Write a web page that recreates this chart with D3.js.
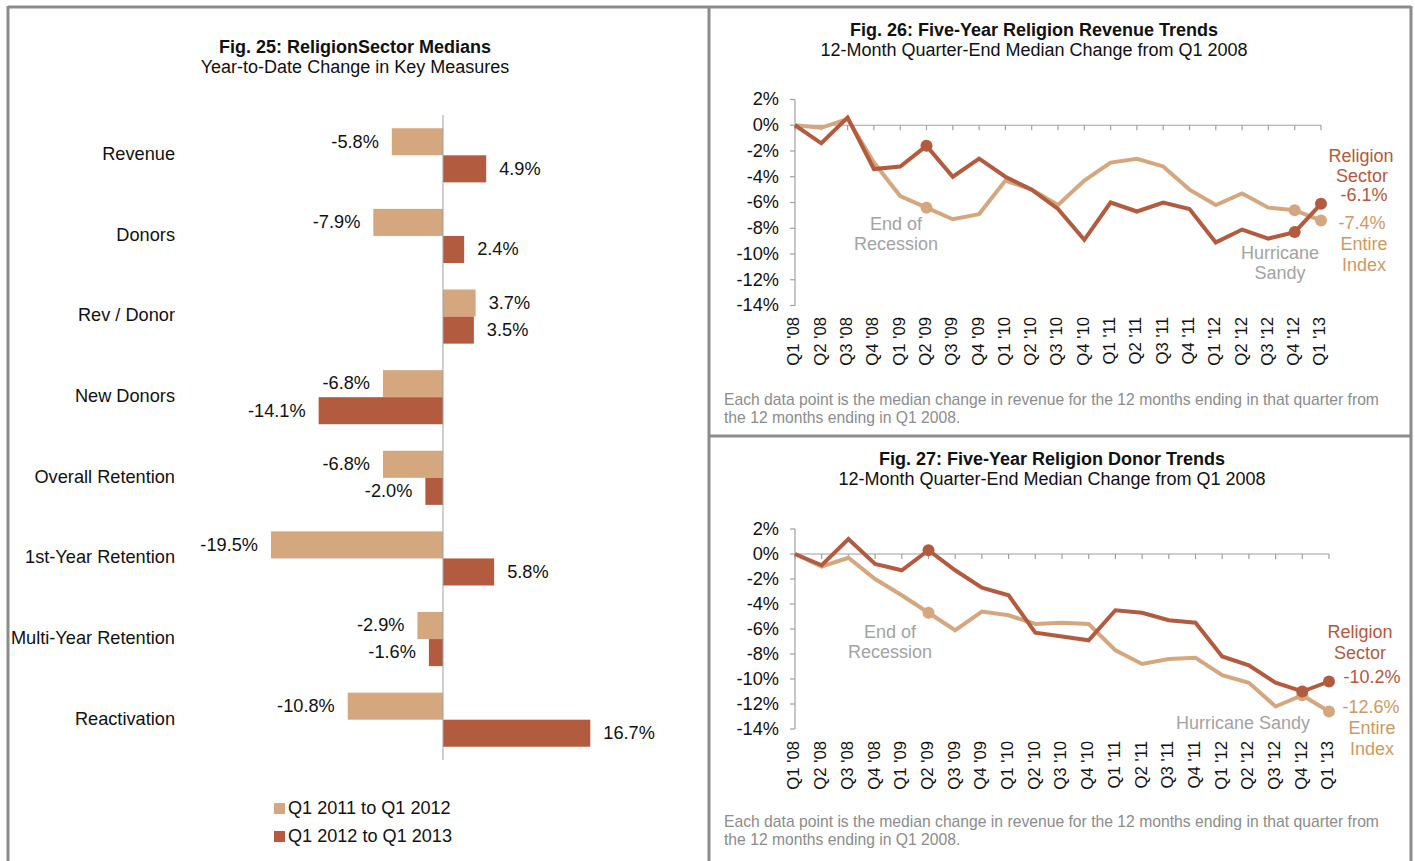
<!DOCTYPE html>
<html>
<head>
<meta charset="utf-8">
<script src="https://cdn.jsdelivr.net/npm/d3@7"></script>
<style>
  html, body { margin: 0; padding: 0; background: #fff; }
  svg { display: block; font-family: "Liberation Sans", Arial, sans-serif; }
</style>
</head>
<body>
<svg id="chart" width="1415" height="861"></svg>
<script>
// ---------- DATA ----------
const barCategories = ["Revenue", "Donors", "Rev / Donor", "New Donors", "Overall Retention", "1st-Year Retention", "Multi-Year Retention", "Reactivation"];
const barSeriesNames = ["Q1 2011 to Q1 2012", "Q1 2012 to Q1 2013"];
const bar2011to2012 = [-5.8, -7.9, 3.7, -6.8, -6.8, -19.5, -2.9, -10.8];
const bar2012to2013 = [4.9, 2.4, 3.5, -14.1, -2.0, 5.8, -1.6, 16.7];

const quarters = ["Q1 '08","Q2 '08","Q3 '08","Q4 '08","Q1 '09","Q2 '09","Q3 '09","Q4 '09","Q1 '10","Q2 '10","Q3 '10","Q4 '10","Q1 '11","Q2 '11","Q3 '11","Q4 '11","Q1 '12","Q2 '12","Q3 '12","Q4 '12","Q1 '13"];
const yTicks = [2, 0, -2, -4, -6, -8, -10, -12, -14];

const revenueReligion = [0, -1.4, 0.6, -3.4, -3.2, -1.6, -4.0, -2.6, -4.0, -5.0, -6.5, -8.9, -6.0, -6.7, -6.0, -6.5, -9.1, -8.1, -8.8, -8.3, -6.1];
const revenueIndex    = [0, -0.2, 0.5, -2.9, -5.5, -6.4, -7.3, -6.9, -4.3, -5.0, -6.2, -4.3, -2.9, -2.6, -3.2, -5.0, -6.2, -5.3, -6.4, -6.6, -7.4];

const donorReligion = [0, -0.9, 1.2, -0.8, -1.3, 0.3, -1.3, -2.7, -3.3, -6.3, -6.6, -6.9, -4.5, -4.7, -5.3, -5.5, -8.2, -8.9, -10.3, -11.0, -10.2];
const donorIndex    = [0, -1.0, -0.3, -2.0, -3.3, -4.7, -6.1, -4.6, -4.9, -5.6, -5.5, -5.6, -7.7, -8.8, -8.4, -8.3, -9.7, -10.3, -12.2, -11.3, -12.6];

const markerIdx = [5, 19, 20];

// ---------- STYLE ----------
const LIGHT = "#D5A77E";
const DARK = "#B35B3E";
const LIGHT_TXT = "#CF9862";
const DARK_TXT = "#B5583B";
const GRAY_TXT = "#A3A3A3";
const BORDER = "#8C8C8C";
const AXIS = "#A0A0A0";

const svg = d3.select("#chart");

// ---------- PANEL BORDERS ----------
const borders = svg.append("g").attr("fill", "none").attr("stroke", BORDER).attr("stroke-width", 3);
borders.append("line").attr("x1", 8).attr("x2", 1411).attr("y1", 7).attr("y2", 7);
borders.append("line").attr("x1", 8).attr("x2", 8).attr("y1", 6).attr("y2", 870);
borders.append("line").attr("x1", 709).attr("x2", 709).attr("y1", 6).attr("y2", 870);
borders.append("line").attr("x1", 1411).attr("x2", 1411).attr("y1", 6).attr("y2", 870);
borders.append("line").attr("x1", 709).attr("x2", 1411).attr("y1", 436).attr("y2", 436);

function title(x, y, t, sub) {
  svg.append("text").attr("x", x).attr("y", y).attr("text-anchor", "middle")
    .attr("font-size", 18).attr("font-weight", "bold").attr("fill", "#111").text(t);
  svg.append("text").attr("x", x).attr("y", y + 20).attr("text-anchor", "middle")
    .attr("font-size", 18).attr("fill", "#111").text(sub);
}

// ---------- FIG 25: BAR CHART ----------
title(355, 53, "Fig. 25: ReligionSector Medians", "Year-to-Date Change in Key Measures");

const bx = d3.scaleLinear().domain([-20, 20]).range([443 - 176.4, 443 + 176.4]);
const by = d3.scaleBand().domain(barCategories).range([115, 760]).padding(0);
const bsub = d3.scaleBand().domain(barSeriesNames).range([0, by.bandwidth()]).paddingInner(0).paddingOuter(0.49);
const barData = barCategories.map((c, i) => ({ cat: c, vals: [
  { s: barSeriesNames[0], v: bar2011to2012[i], color: LIGHT },
  { s: barSeriesNames[1], v: bar2012to2013[i], color: DARK }
]}));

const bg = svg.append("g");
const groups = bg.selectAll("g.cat").data(barData).join("g")
  .attr("transform", d => `translate(0,${by(d.cat)})`);
groups.selectAll("rect").data(d => d.vals).join("rect")
  .attr("x", d => bx(Math.min(0, d.v)))
  .attr("width", d => Math.abs(bx(d.v) - bx(0)))
  .attr("y", d => bsub(d.s))
  .attr("height", bsub.bandwidth())
  .attr("fill", d => d.color);
groups.selectAll("text.val").data(d => d.vals).join("text")
  .attr("class", "val")
  .attr("x", d => d.v >= 0 ? bx(d.v) + 13 : bx(d.v) - 13)
  .attr("y", d => bsub(d.s) + bsub.bandwidth() / 2 + 1)
  .attr("dominant-baseline", "middle")
  .attr("text-anchor", d => d.v >= 0 ? "start" : "end")
  .attr("font-size", 18.2).attr("fill", "#111")
  .text(d => d.v.toFixed(1) + "%");
groups.append("text")
  .attr("x", 175).attr("y", by.bandwidth() / 2)
  .attr("dominant-baseline", "middle").attr("text-anchor", "end")
  .attr("font-size", 18.2).attr("fill", "#111")
  .text(d => d.cat);
// vertical zero axis
svg.append("line").attr("x1", bx(0)).attr("x2", bx(0)).attr("y1", 115).attr("y2", 760)
  .attr("stroke", AXIS).attr("stroke-width", 1);

// legend
const lg = svg.append("g");
barSeriesNames.forEach((s, i) => {
  const y = 809 + i * 28;
  lg.append("rect").attr("x", 274).attr("y", y - 6).attr("width", 11).attr("height", 11)
    .attr("fill", i === 0 ? LIGHT : DARK);
  lg.append("text").attr("x", 288).attr("y", y).attr("dominant-baseline", "middle")
    .attr("font-size", 18.1).attr("fill", "#111").text(s);
});

// ---------- LINE CHARTS ----------
function lineChart(cfg) {
  const x = d3.scalePoint().domain(quarters).range([795, cfg.xEnd]);
  const y = d3.scaleLinear().domain([-14, 2]).range([cfg.yBottom, cfg.yTop]);
  const g = svg.append("g");

  // y axis
  g.append("line").attr("x1", 795).attr("x2", 795).attr("y1", y(2)).attr("y2", y(-14))
    .attr("stroke", AXIS).attr("stroke-width", 1.2);
  g.selectAll("line.yt").data(yTicks).join("line").attr("class", "yt")
    .attr("x1", 790).attr("x2", 795).attr("y1", d => y(d)).attr("y2", d => y(d))
    .attr("stroke", AXIS).attr("stroke-width", 1.2);
  g.selectAll("text.yl").data(yTicks).join("text").attr("class", "yl")
    .attr("x", 779).attr("y", d => y(d) + 1).attr("text-anchor", "end")
    .attr("dominant-baseline", "middle").attr("font-size", 18.2).attr("fill", "#111")
    .text(d => d + "%");

  // zero axis with category ticks
  g.append("line").attr("x1", 795).attr("x2", cfg.xEnd).attr("y1", y(0)).attr("y2", y(0))
    .attr("stroke", AXIS).attr("stroke-width", 1.2);
  g.selectAll("line.xt").data(quarters).join("line").attr("class", "xt")
    .attr("x1", d => x(d)).attr("x2", d => x(d)).attr("y1", y(0)).attr("y2", y(0) + 5)
    .attr("stroke", AXIS).attr("stroke-width", 1.2);
  g.selectAll("text.xl").data(quarters).join("text").attr("class", "xl")
    .attr("transform", d => `translate(${x(d)},${cfg.labelTop}) rotate(-90)`)
    .attr("text-anchor", "end").attr("dominant-baseline", "middle")
    .attr("font-size", 16.7).attr("fill", "#111").text(d => d);

  const line = d3.line().x((d, i) => x(quarters[i])).y(d => y(d));
  [[cfg.index, LIGHT], [cfg.religion, DARK]].forEach(([vals, col]) => {
    g.append("path").datum(vals).attr("d", line).attr("fill", "none")
      .attr("stroke", col).attr("stroke-width", 4).attr("stroke-linejoin", "miter");
  });
  [[cfg.index, LIGHT], [cfg.religion, DARK]].forEach(([vals, col]) => {
    g.selectAll(null).data(markerIdx).join("circle")
      .attr("cx", i => x(quarters[i])).attr("cy", i => y(vals[i])).attr("r", 6)
      .attr("fill", col);
  });

  // annotations
  cfg.notes.forEach(n => {
    g.append("text").attr("x", n[0]).attr("y", n[1]).attr("text-anchor", "middle")
      .attr("dominant-baseline", "middle").attr("font-size", 18).attr("fill", n[3]).text(n[2]);
  });

  // footnote
  svg.append("text").attr("x", 724).attr("y", cfg.footY).attr("font-size", 15.7).attr("fill", "#8C8C8C")
    .attr("dominant-baseline", "middle")
    .text("Each data point is the median change in revenue for the 12 months ending in that quarter from");
  svg.append("text").attr("x", 724).attr("y", cfg.footY + 18).attr("font-size", 15.7).attr("fill", "#8C8C8C")
    .attr("dominant-baseline", "middle")
    .text("the 12 months ending in Q1 2008.");
}

title(1034, 36, "Fig. 26: Five-Year Religion Revenue Trends", "12-Month Quarter-End Median Change from Q1 2008");
lineChart({
  xEnd: 1321, yTop: 99.5, yBottom: 305.5, labelTop: 317,
  religion: revenueReligion, index: revenueIndex, footY: 401,
  notes: [
    [896, 225, "End of", GRAY_TXT], [896, 245, "Recession", GRAY_TXT],
    [1280, 254, "Hurricane", GRAY_TXT], [1280, 274, "Sandy", GRAY_TXT],
    [1361, 157, "Religion", DARK_TXT], [1362, 177, "Sector", DARK_TXT], [1364, 196, "-6.1%", DARK_TXT],
    [1362, 224, "-7.4%", LIGHT_TXT], [1364, 245, "Entire", LIGHT_TXT], [1364, 266, "Index", LIGHT_TXT]
  ]
});

title(1052, 465, "Fig. 27: Five-Year Religion Donor Trends", "12-Month Quarter-End Median Change from Q1 2008");
lineChart({
  xEnd: 1329, yTop: 529, yBottom: 729, labelTop: 741,
  religion: donorReligion, index: donorIndex, footY: 823,
  notes: [
    [890, 633, "End of", GRAY_TXT], [890, 653, "Recession", GRAY_TXT],
    [1243, 724, "Hurricane Sandy", GRAY_TXT],
    [1360, 633, "Religion", DARK_TXT], [1360, 654, "Sector", DARK_TXT], [1372, 678, "-10.2%", DARK_TXT],
    [1371, 708, "-12.6%", LIGHT_TXT], [1372, 729, "Entire", LIGHT_TXT], [1372, 750, "Index", LIGHT_TXT]
  ]
});
</script>
</body>
</html>
